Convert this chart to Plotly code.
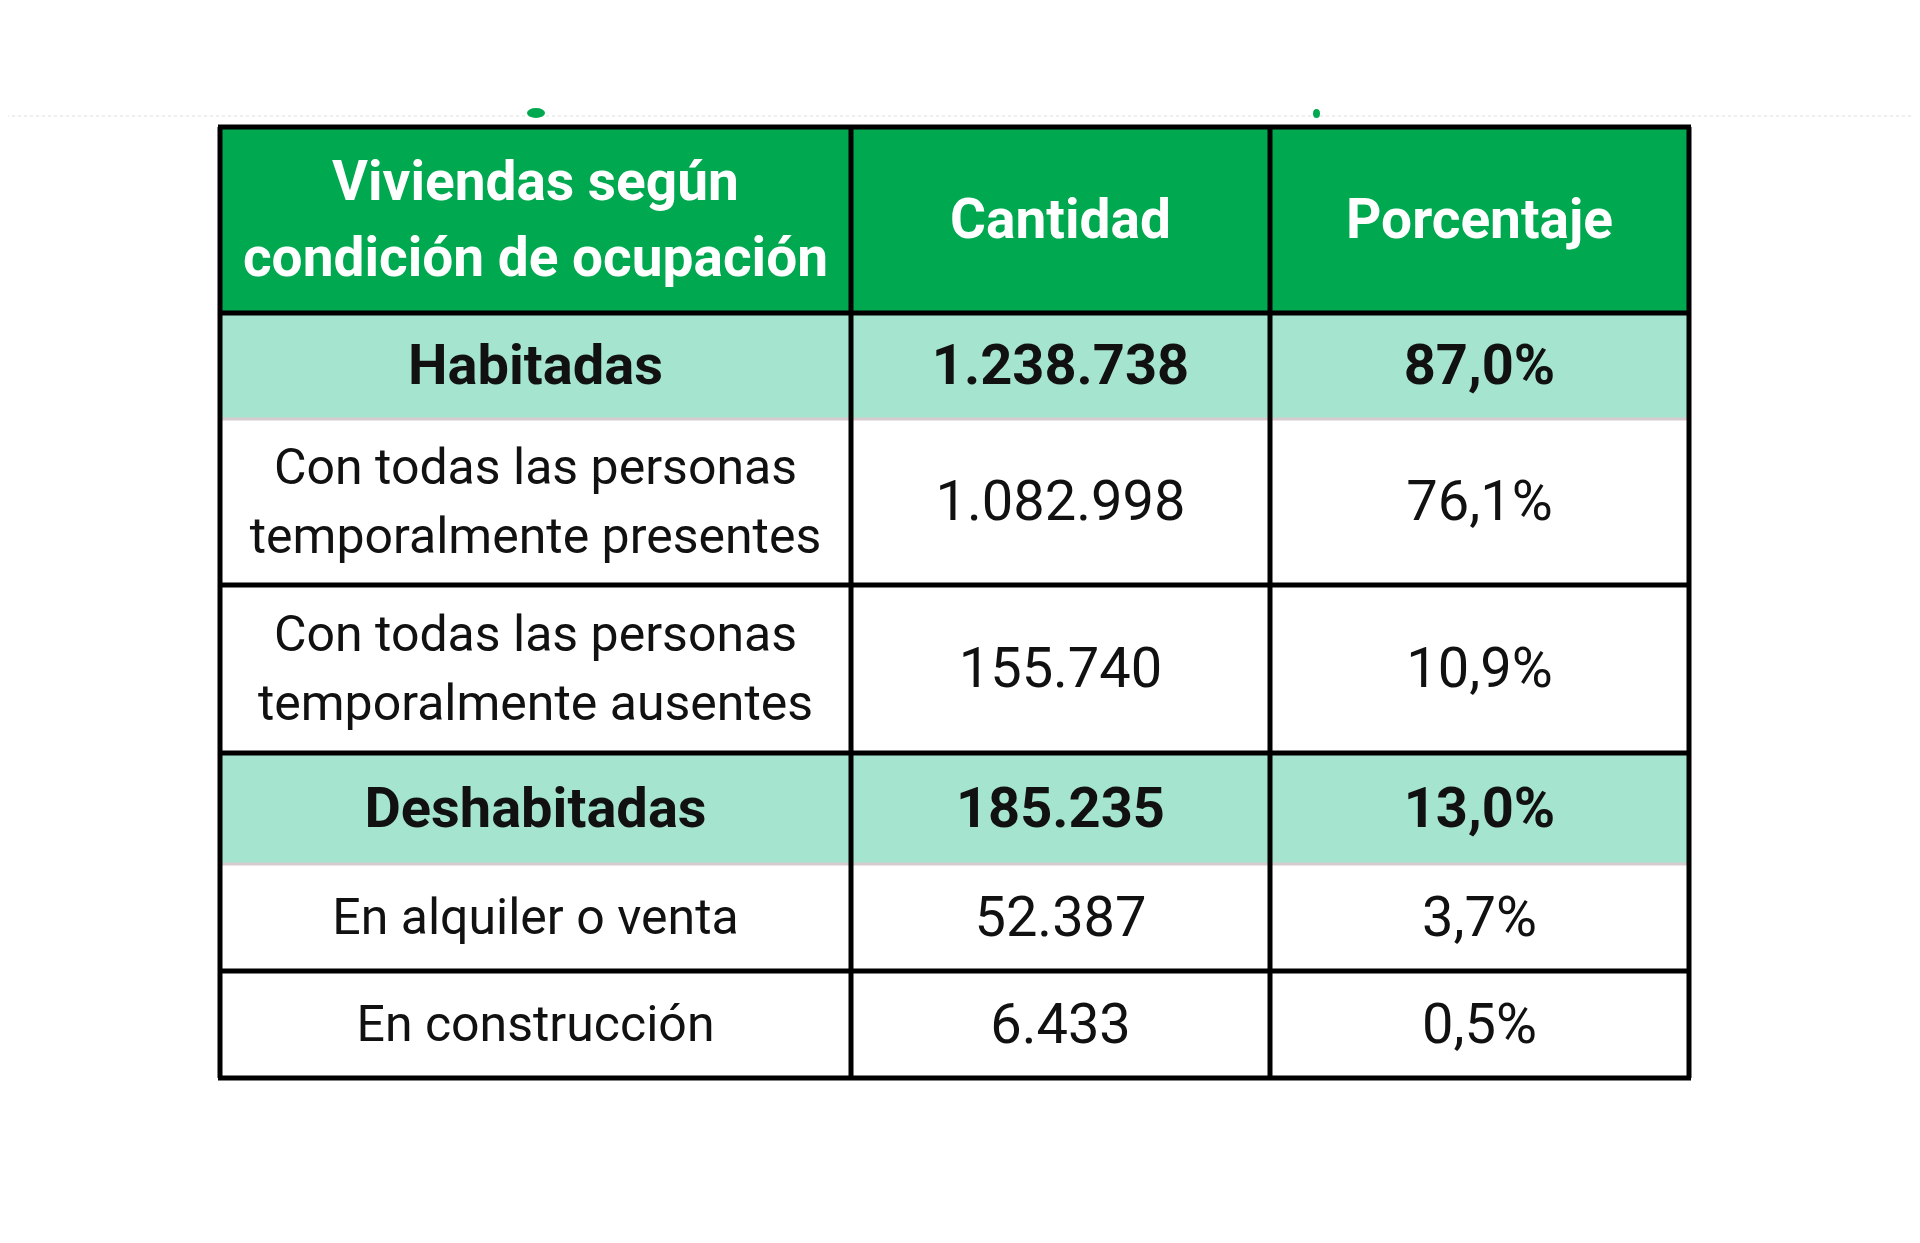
import plotly.graph_objects as go

# Datos de la tabla
encabezado = ["Viviendas según<br>condición de ocupación", "Cantidad", "Porcentaje"]
condicion = [
    "Habitadas",
    "Con todas las personas<br>temporalmente presentes",
    "Con todas las personas<br>temporalmente ausentes",
    "Deshabitadas",
    "En alquiler o venta",
    "En construcción",
]
cantidad = [1238738, 1082998, 155740, 185235, 52387, 6433]
porcentaje = [87.0, 76.1, 10.9, 13.0, 3.7, 0.5]
es_subtotal = [True, False, False, True, False, False]


def miles(n):
    return f"{n:,}".replace(",", ".")


def pct(p):
    return f"{p:.1f}%".replace(".", ",")


# Geometria (pixeles de la ventana; el body de la pagina tiene 8px de margen)
W, H = 1920, 1243
OFF = 8
X0, Y0 = 220, 127
ANCHOS = [631, 419, 419]
ALTOS = [186, 106, 166, 168, 111, 107, 107]
BAJA_TEXTO = 4

VERDE = "#00A94F"
VERDE_CLARO = "#A5E4CF"
NEGRO = "#000000"
GRIS = "#D6CBCE"
FUENTE = "Roboto"

xs = [X0]
for w in ANCHOS:
    xs.append(xs[-1] + w)
ys = [Y0]
for h in ALTOS:
    ys.append(ys[-1] + h)

# Filas: encabezado + datos
filas = [dict(textos=encabezado, fondo=VERDE, color="white", negrita=True, size=[55, 55, 55])]
for i in range(len(condicion)):
    sub = es_subtotal[i]
    filas.append(dict(
        textos=[condicion[i], miles(cantidad[i]), pct(porcentaje[i])],
        fondo=VERDE_CLARO if sub else "white",
        color="#111111",
        negrita=sub,
        size=[56, 56, 56] if sub else [50, 56, 56],
    ))

shapes = []
tx, ty, tt, tcol, tsize = [], [], [], [], []

for r, fila in enumerate(filas):
    for c, texto in enumerate(fila["textos"]):
        shapes.append(dict(type="rect", xref="x", yref="y",
                           x0=xs[c], x1=xs[c + 1], y0=ys[r], y1=ys[r + 1],
                           fillcolor=fila["fondo"], line=dict(width=0), layer="below"))
        lineas = texto.split("<br>")
        size = fila["size"][c]
        paso = 76 if r == 0 else 69
        cy = (ys[r] + ys[r + 1]) / 2 + BAJA_TEXTO
        cx = (xs[c] + xs[c + 1]) / 2
        n = len(lineas)
        for k, linea in enumerate(lineas):
            tx.append(cx)
            ty.append(cy + (k - (n - 1) / 2) * paso)
            tt.append(f"<b>{linea}</b>" if fila["negrita"] else linea)
            tcol.append(fila["color"])
            tsize.append(size)

# lineas horizontales: gris bajo las filas de subtotal
for j, y in enumerate(ys):
    gris = j >= 2 and es_subtotal[j - 2]
    if gris:
        shapes.append(dict(type="line", xref="x", yref="y", x0=xs[0], x1=xs[-1], y0=y, y1=y,
                           line=dict(color=GRIS, width=3)))
for j, y in enumerate(ys):
    gris = j >= 2 and es_subtotal[j - 2]
    if not gris:
        shapes.append(dict(type="line", xref="x", yref="y", x0=xs[0] - 2, x1=xs[-1] + 2, y0=y, y1=y,
                           line=dict(color=NEGRO, width=5)))
for x in xs:
    shapes.append(dict(type="line", xref="x", yref="y", x0=x, x1=x, y0=ys[0], y1=ys[-1],
                       line=dict(color=NEGRO, width=5)))

# restos del titulo recortado sobre la tabla
shapes.append(dict(type="line", xref="x", yref="y", x0=0, x1=W, y0=116, y1=116,
                   line=dict(color="#EEEEEE", width=2, dash="dot"), layer="below"))
shapes.append(dict(type="circle", xref="x", yref="y", x0=527, x1=545, y0=108, y1=118,
                   fillcolor=VERDE, line=dict(width=0)))
shapes.append(dict(type="circle", xref="x", yref="y", x0=1313, x1=1320, y0=109, y1=118,
                   fillcolor=VERDE, line=dict(width=0)))

fig = go.Figure()
fig.add_trace(go.Scatter(
    x=tx, y=ty, text=tt, mode="text",
    textposition="middle center",
    textfont=dict(family=FUENTE, color=tcol, size=tsize),
    hoverinfo="skip", showlegend=False,
))

fig.update_layout(
    width=W - 2 * OFF, height=H - 2 * OFF,
    margin=dict(l=0, r=0, t=0, b=0),
    paper_bgcolor="white", plot_bgcolor="white",
    xaxis=dict(range=[OFF, W - OFF], visible=False, fixedrange=True),
    yaxis=dict(range=[H - OFF, OFF], visible=False, fixedrange=True),
    shapes=shapes,
    showlegend=False,
)

fig.write_html("out.html")
